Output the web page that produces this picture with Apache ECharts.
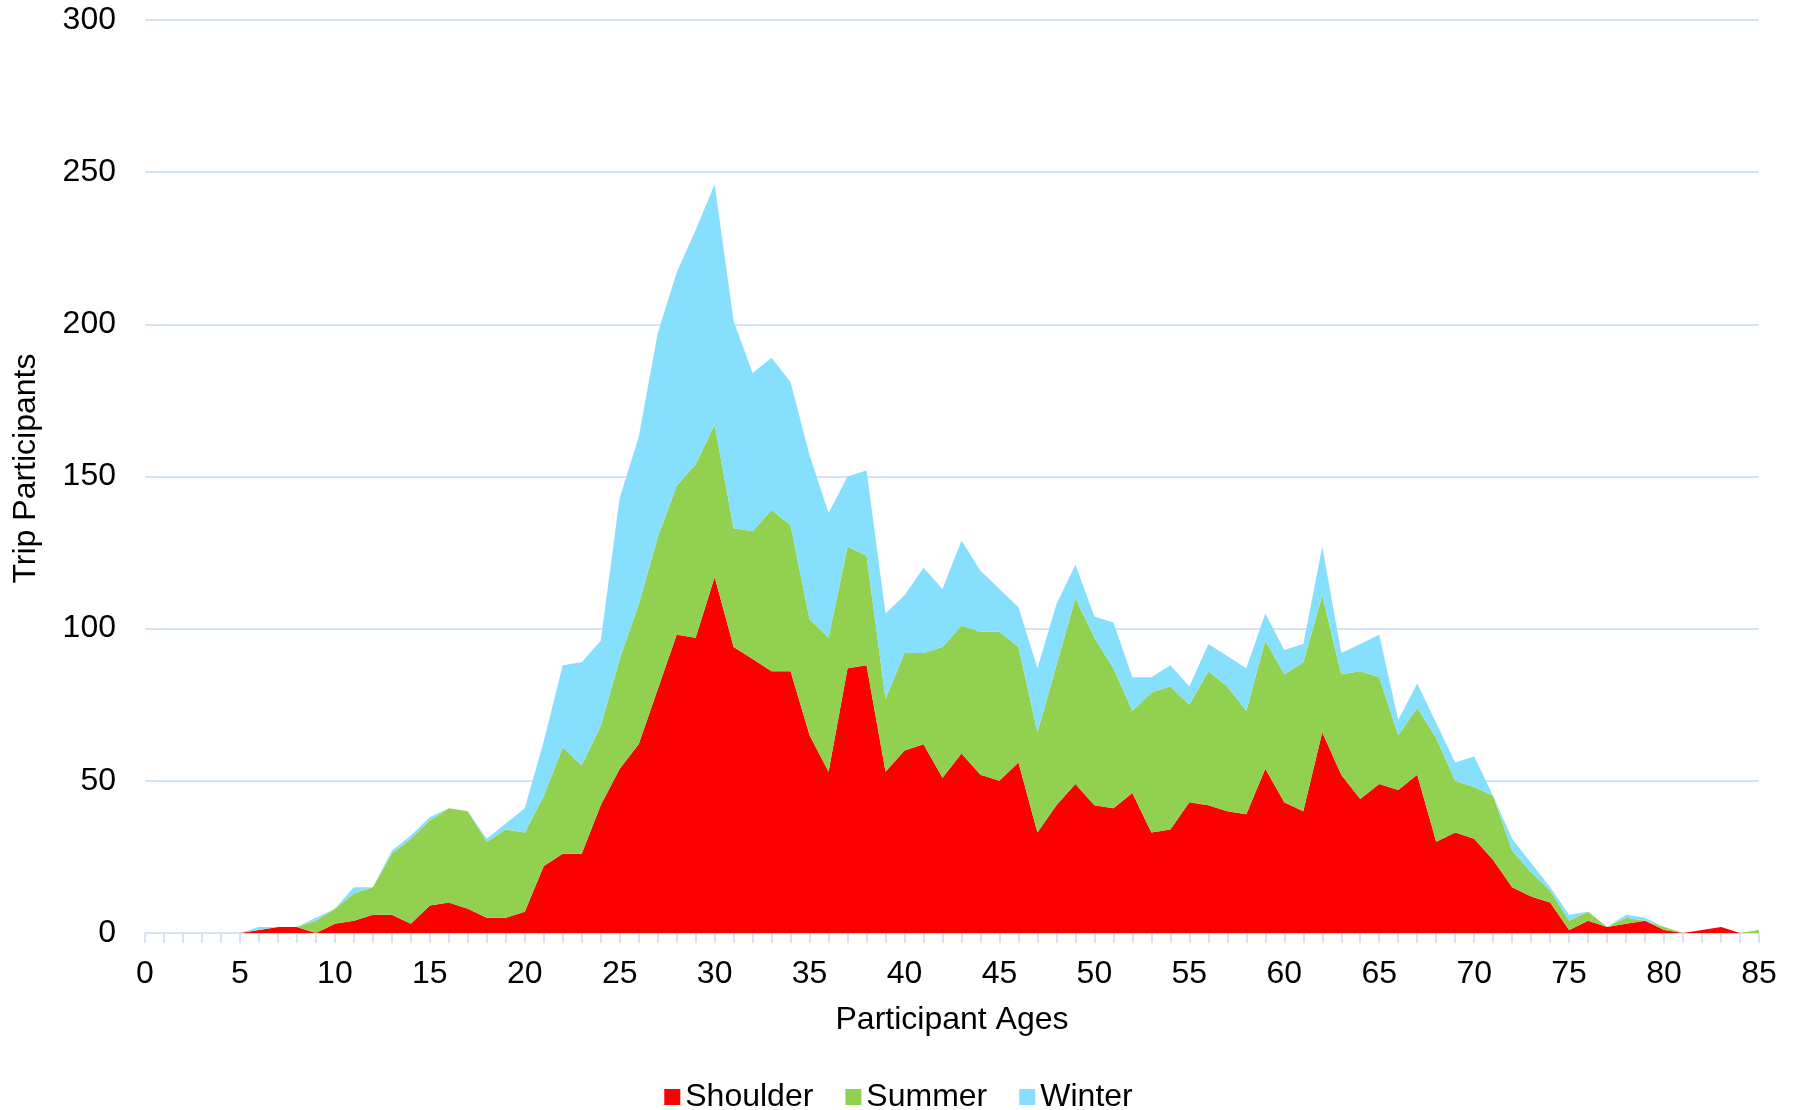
<!DOCTYPE html>
<html>
<head>
<meta charset="utf-8">
<script src="https://cdn.jsdelivr.net/npm/echarts@6/dist/echarts.min.js"></script>
<style>html,body{margin:0;padding:0;background:#fff}#c{width:1797px;height:1110px}</style>
</head>
<body>
<div id="c"></div>
<script>
const ages = [];
for (let a = 0; a <= 85; a++) ages.push(String(a));

const shoulder = [0,0,0,0,0,0,1,2,2,0,3,4,6,6,3,9,10,8,5,5,7,22,26,26,42,54,62,80,98,97,117,94,90,86,86,65,53,87,88,53,60,62,51,59,52,50,56,33,42,49,42,41,46,33,34,43,42,40,39,54,43,40,66,52,44,49,47,52,30,33,31,24,15,12,10,1,4,2,3,4,1,0,1,2,0,0];
const summer   = [0,0,0,0,0,0,0,0,0,4,5,9,9,20,28,28,31,32,25,29,26,23,35,29,26,36,46,50,49,57,50,39,42,53,48,38,44,40,36,24,32,30,43,42,47,49,38,33,46,61,55,46,27,46,47,32,44,41,34,42,42,49,45,33,42,35,18,22,34,17,17,21,12,8,4,3,3,0,2,0,1,0,0,0,0,1];
const winter   = [0,0,0,0,0,0,1,0,0,1,0,2,0,1,1,1,0,0,1,2,8,18,27,34,28,53,55,67,70,77,79,68,52,50,47,54,41,23,28,28,19,28,19,28,20,14,13,21,20,11,7,15,11,5,7,6,9,10,14,9,8,6,16,7,9,14,5,8,5,6,10,0,4,3,1,2,0,0,1,1,0,0,0,0,0,0];

const seriesNames = ['Shoulder','Summer','Winter'];
const colors = ['#FD0000','#92D050','#87DFFE'];
const yTicks = {min:0, max:300, interval:50};

const FONT = '"Liberation Sans", Arial, sans-serif';
const FS = 32;
const gridColor = '#D6E3F3';

const chart = echarts.init(document.getElementById('c'), null, {renderer:'canvas'});
const mk = (name, data, i) => ({
  name, type:'line', stack:'total', data,
  symbol:'none', showSymbol:false,
  lineStyle:{width:0, color:colors[i]},
  itemStyle:{color:colors[i]},
  areaStyle:{color:colors[i], opacity:1},
  emphasis:{disabled:true}
});
chart.setOption({
  animation:false,
  textStyle:{fontFamily:FONT, color:'#000'},
  grid:{left:145, right:38, top:20, bottom:177, containLabel:false, outerBoundsMode:'none'},
  legend:{
    data:seriesNames, top:1076, left:'center',
    icon:'rect', itemWidth:16, itemHeight:16, itemGap:32,
    textStyle:{fontFamily:FONT, fontSize:FS, color:'#000'}
  },
  xAxis:{
    type:'category', data:ages, boundaryGap:false,
    name:'Participant Ages', nameLocation:'middle', nameGap:71,
    nameTextStyle:{fontFamily:FONT, fontSize:FS, color:'#000'},
    axisLine:{show:true, lineStyle:{color:gridColor, width:2}},
    axisTick:{show:true, interval:0, length:10, lineStyle:{color:gridColor, width:2}},
    axisLabel:{interval:4, fontFamily:FONT, fontSize:FS, color:'#000', margin:25},
    splitLine:{show:false}
  },
  yAxis:{
    type:'value', min:yTicks.min, max:yTicks.max, interval:yTicks.interval,
    name:'Trip Participants', nameLocation:'middle', nameGap:103, nameRotate:90,
    nameTextStyle:{fontFamily:FONT, fontSize:FS, color:'#000', padding:[0,0,0,16]},
    axisLine:{show:false}, axisTick:{show:false},
    axisLabel:{fontFamily:FONT, fontSize:FS, color:'#000', margin:29},
    splitLine:{show:true, lineStyle:{color:gridColor, width:2}}
  },
  series:[mk('Shoulder',shoulder,0), mk('Summer',summer,1), mk('Winter',winter,2)]
});
</script>
</body>
</html>
